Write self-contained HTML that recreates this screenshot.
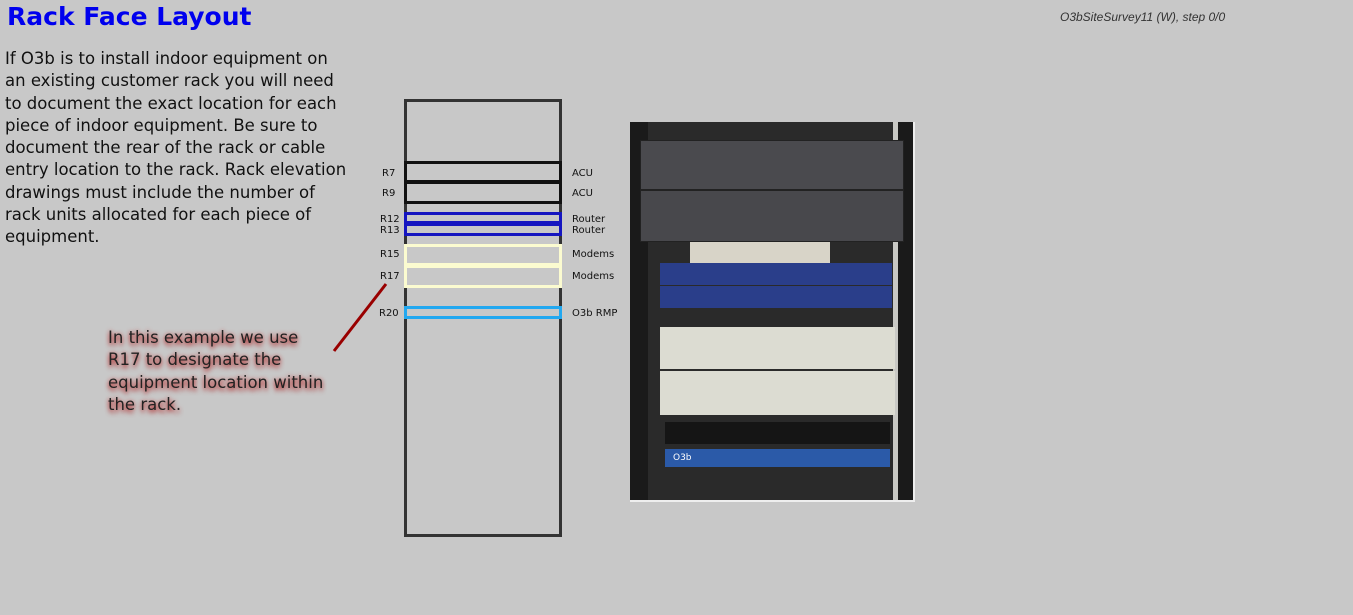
<!DOCTYPE html>
<html><head><meta charset="utf-8"><style>
body{margin:0;width:1353px;height:615px;background:#c8c8c8;position:relative;overflow:hidden;font-family:"DejaVu Sans","Liberation Sans",sans-serif}
.a{position:absolute}
h1{position:absolute;left:7px;top:0;margin:0;font:bold 25px "DejaVu Sans",sans-serif;color:#0000ee;line-height:34px}
.p{left:5px;top:48px;font-size:16.5px;line-height:22.3px;color:#111;white-space:nowrap}
.n{left:108px;top:327px;font-size:16.5px;line-height:22.3px;color:#222;text-shadow:0 3px 5px #a33,0 0 4px #c66;white-space:nowrap}
.hdr{left:1060px;top:10px;font:italic 12px "Liberation Sans",sans-serif;color:#333}
.box{position:absolute;box-sizing:border-box}
.l{position:absolute;font-size:10px;color:#111;line-height:12px}
</style></head><body>
<h1>Rack Face Layout</h1>
<div class="a p">If O3b is to install indoor equipment on<br>an existing customer rack you will need<br>to document the exact location for each<br>piece of indoor equipment. Be sure to<br>document the rear of the rack or cable<br>entry location to the rack. Rack elevation<br>drawings must include the number of<br>rack units allocated for each piece of<br>equipment.</div>
<div class="a n">In this example we use<br>R17 to designate the<br>equipment location within<br>the rack.</div>
<div class="a hdr">O3bSiteSurvey11 (W), step 0/0</div>
<svg class="a" style="left:0;top:0" width="1353" height="615"><line x1="334" y1="351" x2="386" y2="284" stroke="#990000" stroke-width="3"/></svg>
<div class="box" style="left:404px;top:99px;width:158px;height:438px;border:3px solid #333"></div>
<div class="box" style="left:404px;top:161px;width:158px;height:22px;border:3px solid #111"></div>
<div class="box" style="left:404px;top:181px;width:158px;height:23px;border:3px solid #111"></div>
<div class="box" style="left:404px;top:212px;width:158px;height:12px;border:3px solid #1515c0"></div>
<div class="box" style="left:404px;top:223px;width:158px;height:13px;border:3px solid #1515c0"></div>
<div class="box" style="left:404px;top:244px;width:158px;height:22px;border:3px solid #fbfbd0"></div>
<div class="box" style="left:404px;top:265px;width:158px;height:23px;border:3px solid #fbfbd0"></div>
<div class="box" style="left:404px;top:306px;width:158px;height:13px;border:3px solid #22a8f0"></div>
<div class="l" style="left:382px;top:168px">R7</div><div class="l" style="left:382px;top:188px">R9</div>
<div class="l" style="left:380px;top:214px">R12</div><div class="l" style="left:380px;top:225px">R13</div>
<div class="l" style="left:380px;top:249px">R15</div><div class="l" style="left:380px;top:271px">R17</div>
<div class="l" style="left:379px;top:308px">R20</div>
<div class="l" style="left:572px;top:168px">ACU</div><div class="l" style="left:572px;top:188px">ACU</div>
<div class="l" style="left:572px;top:214px">Router</div><div class="l" style="left:572px;top:225px">Router</div>
<div class="l" style="left:572px;top:249px">Modems</div><div class="l" style="left:572px;top:271px">Modems</div>
<div class="l" style="left:572px;top:308px">O3b RMP</div>
<div class="a" style="left:630px;top:122px;width:285px;height:380px;background:#1a1a1a;border-right:2px solid #eee;border-bottom:2px solid #eee;box-sizing:border-box;overflow:hidden">
 <div class="a" style="left:208px;top:0;width:60px;height:378px;background:#c8c8c4"></div>
 <div class="a" style="left:18px;top:0;width:245px;height:378px;background:#2a2a2a"></div>
 <div class="a" style="left:10px;top:18px;width:262px;height:48px;background:#4a4a4e;border:1px solid #222"></div>
 <div class="a" style="left:10px;top:68px;width:262px;height:50px;background:#48484c;border:1px solid #222"></div>
 <div class="a" style="left:60px;top:120px;width:140px;height:22px;background:#d8d4c8"></div>
 <div class="a" style="left:30px;top:141px;width:232px;height:22px;background:#2a3e8a"></div>
 <div class="a" style="left:30px;top:164px;width:232px;height:22px;background:#2a3e8a"></div>
 <div class="a" style="left:30px;top:205px;width:235px;height:42px;background:#dcdcd2"></div>
 <div class="a" style="left:30px;top:249px;width:235px;height:44px;background:#dcdcd2"></div>
 <div class="a" style="left:35px;top:300px;width:225px;height:22px;background:#151515"></div>
 <div class="a" style="left:35px;top:327px;width:225px;height:18px;background:#2b5aa8;color:#fff;font-size:9px;line-height:18px;padding-left:8px;box-sizing:border-box">O3b</div>
</div>
</body></html>
